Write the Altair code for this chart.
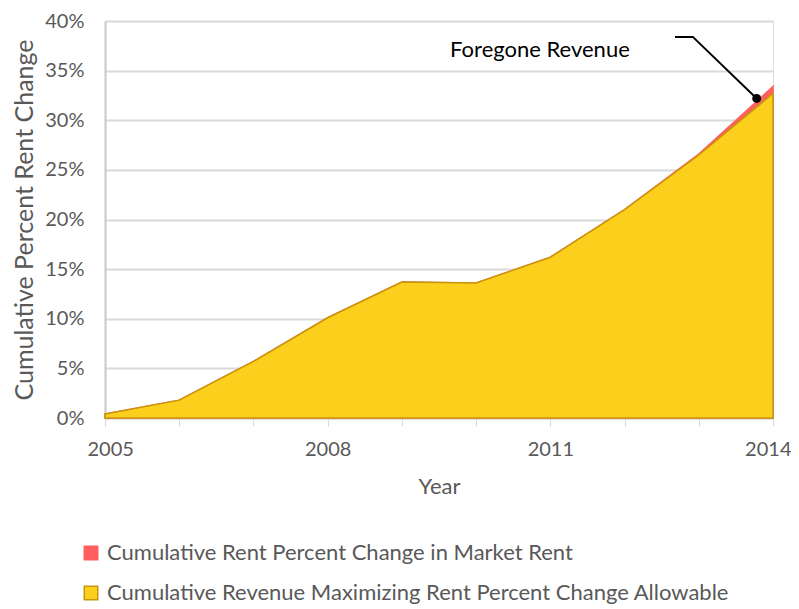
import altair as alt
import pandas as pd

years = [2005, 2006, 2007, 2008, 2009, 2010, 2011, 2012, 2013, 2014]
market = [0.4, 1.8, 5.7, 10.1, 13.7, 13.6, 16.2, 21.0, 26.6, 33.4]
allowable = [0.4, 1.8, 5.7, 10.1, 13.7, 13.6, 16.2, 21.0, 26.5, 32.7]
series_names = ["Cumulative Rent Percent Change in Market Rent",
                "Cumulative Revenue Maximizing Rent Percent Change Allowable"]

ann_text = ["Foregone Revenue"]
ann_text_x = [2010.86]
ann_text_y = [36.4]
leader_x = [2012.68, 2012.92, 2013.78]
leader_y = [38.4, 38.4, 32.2]

FONT = "Gill Sans, Lato, Open Sans"
GREY = "#595959"

df = pd.DataFrame(
    [{"year": y, "value": v / 100, "series": series_names[0]} for y, v in zip(years, market)]
    + [{"year": y, "value": v / 100, "series": series_names[1]} for y, v in zip(years, allowable)]
)

fill_scale = alt.Scale(domain=series_names, range=["#ff5f5f", "#fccf1d"])
stroke_scale = alt.Scale(domain=series_names, range=["#ff5f5f", "#c8960a"])

x_enc = alt.X("year:Q", title="Year",
              scale=alt.Scale(domain=[2005, 2014], nice=False, zero=False),
              axis=alt.Axis(values=years, labelExpr="datum.value % 3 == 1 ? datum.value : ''",
                            grid=False, tickColor="#d9d9d9", tickSize=8, domainColor="#d9d9d9",
                            domainWidth=2, labelFontSize=20, labelColor=GREY, labelFont=FONT,
                            labelFlush=True, labelFlushOffset=18, labelOverlap=False,
                            titleFontSize=22, titleColor=GREY, titleFont=FONT, titleFontWeight="normal",
                            labelPadding=13, titlePadding=17))
y_enc = alt.Y("value:Q", title="Cumulative Percent Rent Change",
              scale=alt.Scale(domain=[0, 0.4], nice=False),
              axis=alt.Axis(format=".0%", values=[i / 100 for i in range(0, 41, 5)], ticks=False,
                            gridColor="#d9d9d9", gridWidth=2, domainColor="#c8c8c8", domainWidth=2,
                            labelFontSize=20, labelColor=GREY, labelFont=FONT, labelPadding=21,
                            titleFontSize=25, titleColor=GREY, titleFont=FONT, titleFontWeight="normal",
                            titlePadding=7))

legend = alt.Legend(title=None, orient="none", legendX=-25, legendY=521, direction="vertical",
                    symbolType="square", symbolSize=180, symbolStrokeWidth=1.5,
                    labelFontSize=22, labelColor=GREY, labelFont=FONT, rowPadding=18,
                    labelLimit=800, symbolOpacity=1, labelOffset=5)

base = alt.Chart(df).encode(
    x=x_enc, y=y_enc,
    fill=alt.Fill("series:N", scale=fill_scale, legend=legend),
    stroke=alt.Stroke("series:N", scale=stroke_scale, legend=legend),
)

red = base.transform_filter(alt.datum.series == series_names[0]).mark_area(
    opacity=1, strokeWidth=1.5, fillOpacity=1)
yellow = base.transform_filter(alt.datum.series == series_names[1]).mark_area(
    opacity=1, strokeWidth=1.5, fillOpacity=1)

ann_df = pd.DataFrame({"text": ann_text, "x": ann_text_x, "y": [v / 100 for v in ann_text_y]})
text = alt.Chart(ann_df).mark_text(font=FONT, fontSize=22, color="black", align="center",
                                   baseline="alphabetic").encode(
    x=alt.X("x:Q"), y=alt.Y("y:Q"), text="text:N")

lead_df = pd.DataFrame({"x": leader_x, "y": [v / 100 for v in leader_y], "o": [0, 1, 2]})
leader = alt.Chart(lead_df).mark_line(color="black", strokeWidth=2).encode(
    x="x:Q", y="y:Q", order="o:Q")
dot = alt.Chart(lead_df.iloc[[2]]).mark_point(filled=True, color="black", size=80, opacity=1,
                                               shape="circle").encode(x="x:Q", y="y:Q")

chart = alt.layer(red, yellow, text, leader, dot).properties(
    width=668, height=397, autosize=alt.AutoSizeParams(type="none"),
    padding={"left": 97, "top": 13, "right": 18, "bottom": 191},
).configure_view(stroke="#c8c8c8", strokeWidth=2).configure(background="white")

chart.save("out.html", embed_options={"renderer": "svg", "actions": False})
